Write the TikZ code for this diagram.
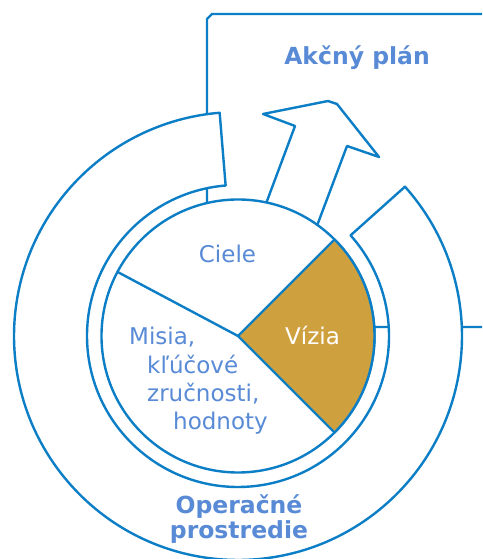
\documentclass[tikz,border=0pt]{standalone}
\usepackage{fontspec}
\setmainfont{DejaVu Sans}
\definecolor{edge}{RGB}{12,126,198}
\definecolor{label}{RGB}{88,138,214}
\definecolor{gold}{RGB}{207,161,62}
\begin{document}
\begin{tikzpicture}[x=1pt,y=1pt,line join=round,
  outline/.style={draw=edge,line width=2.4pt},
  title/.style={font=\fontsize{23.5}{28}\selectfont\bfseries,text=label,inner sep=0pt},
  body/.style={font=\fontsize{23}{28}\selectfont,text=label,inner sep=0pt}]
\useasboundingbox (0,0) rectangle (482,559);
\clip (0,0) rectangle (482,559);
\coordinate (c) at (238,223);

% action-plan frame, partly hidden behind the rings
\draw[outline] (207,232) -- (207,540) -- (212,545) -- (540,545) -- (540,232) -- cycle;

% outer C-shaped band (operating environment)
\path[outline,fill=white]
  ([shift={(c)}]41.8:224) arc[start angle=41.8,end angle=-265.3,radius=224]
  -- ([shift={(c)}]94.7:151) arc[start angle=94.7,end angle=401.8,radius=151]
  -- cycle;

% upward arrow leaving the core
\path[outline,fill=white]
  (263.5,348.6) -- (295,433) -- (263,445) -- (328,458) -- (337,455)
  -- (379,402) -- (347,413) -- (314.5,326.6) -- cycle;

% core pie
\path[outline,fill=white] (c) circle[radius=136.5];
\path[outline,fill=gold] (c) -- ([shift={(c)}]-45:136.5)
  arc[start angle=-45,end angle=45,radius=136.5] -- cycle;
\draw[outline] (c) -- ([shift={(c)}]152:136.5);

% labels
\node[title,anchor=base] (plan) at (357,494) {Akčný plán};
\node[title,anchor=base] (env1) at (239,45) {Operačné};
\node[title,anchor=base] (env2) at (239,20) {prostredie};
\node[body,anchor=base] (goals) at (227.5,296) {Ciele};
\node[body,anchor=base,text=white] (vision) at (312.5,214) {Vízia};
\node[body,anchor=base west] (m1) at (129,214) {Misia,};
\node[body,anchor=base west] (m2) at (147,185) {kľúčové};
\node[body,anchor=base west] (m3) at (147,157) {zručnosti,};
\node[body,anchor=base west] (m4) at (173,129) {hodnoty};
\end{tikzpicture}
\end{document}
